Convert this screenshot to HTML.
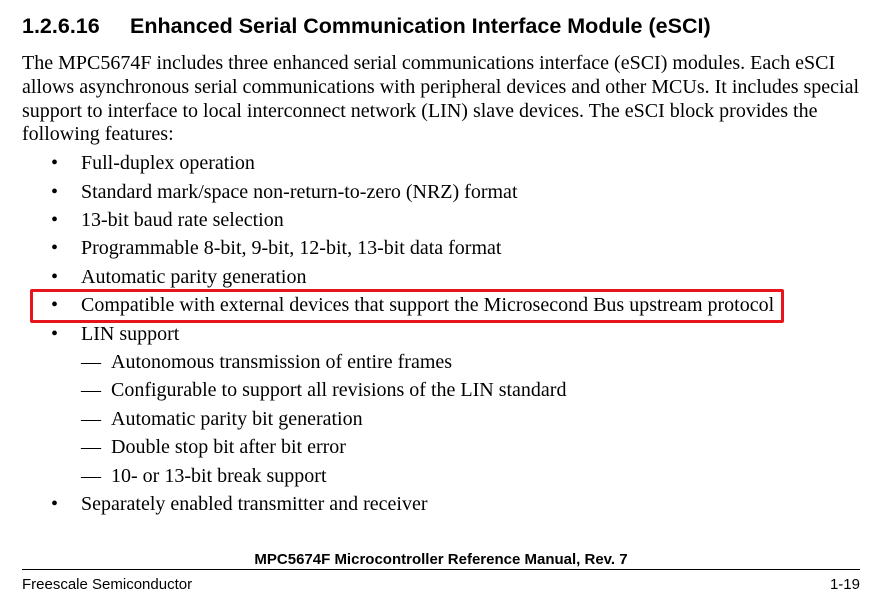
<!DOCTYPE html>
<html><head><meta charset="utf-8">
<style>
html,body{margin:0;padding:0;background:#fff;}
body{width:890px;height:609px;position:relative;overflow:hidden;color:#000;}
.s{position:absolute;font-family:"Liberation Serif",serif;font-size:20px;line-height:22px;white-space:nowrap;}
.h{position:absolute;font-family:"Liberation Sans",sans-serif;font-weight:bold;font-size:21.5px;line-height:24px;white-space:nowrap;}
.f{position:absolute;font-family:"Liberation Sans",sans-serif;font-size:15px;line-height:16px;white-space:nowrap;}
</style></head><body>
<div class="h" style="left:22px;top:14px;">1.2.6.16</div>
<div class="h" style="left:130px;top:14px;">Enhanced Serial Communication Interface Module (eSCI)</div>
<div class="s" style="left:22px;top:52px;">The MPC5674F includes three enhanced serial communications interface (eSCI) modules. Each eSCI</div>
<div class="s" style="left:22px;top:76px;">allows asynchronous serial communications with peripheral devices and other MCUs. It includes special</div>
<div class="s" style="left:22px;top:100px;">support to interface to local interconnect network (LIN) slave devices. The eSCI block provides the</div>
<div class="s" style="left:22px;top:123px;">following features:</div>

<div class="s" style="left:51px;top:152px;">•</div><div class="s" style="left:81px;top:152px;">Full-duplex operation</div>
<div class="s" style="left:51px;top:181px;">•</div><div class="s" style="left:81px;top:181px;">Standard mark/space non-return-to-zero (NRZ) format</div>
<div class="s" style="left:51px;top:209px;">•</div><div class="s" style="left:81px;top:209px;">13-bit baud rate selection</div>
<div class="s" style="left:51px;top:237px;">•</div><div class="s" style="left:81px;top:237px;">Programmable 8-bit, 9-bit, 12-bit, 13-bit data format</div>
<div class="s" style="left:51px;top:266px;">•</div><div class="s" style="left:81px;top:266px;">Automatic parity generation</div>
<div class="s" style="left:51px;top:294px;">•</div><div class="s" style="left:81px;top:294px;">Compatible with external devices that support the Microsecond Bus upstream protocol</div>
<div style="position:absolute;left:30px;top:289px;width:748px;height:28px;border:3px solid #e8141c;border-radius:2px;"></div>
<div class="s" style="left:51px;top:323px;">•</div><div class="s" style="left:81px;top:323px;">LIN support</div>
<div class="s" style="left:81px;top:351px;">—</div><div class="s" style="left:111px;top:351px;">Autonomous transmission of entire frames</div>
<div class="s" style="left:81px;top:379px;">—</div><div class="s" style="left:111px;top:379px;">Configurable to support all revisions of the LIN standard</div>
<div class="s" style="left:81px;top:408px;">—</div><div class="s" style="left:111px;top:408px;">Automatic parity bit generation</div>
<div class="s" style="left:81px;top:436px;">—</div><div class="s" style="left:111px;top:436px;">Double stop bit after bit error</div>
<div class="s" style="left:81px;top:465px;">—</div><div class="s" style="left:111px;top:465px;">10- or 13-bit break support</div>
<div class="s" style="left:51px;top:493px;">•</div><div class="s" style="left:81px;top:493px;">Separately enabled transmitter and receiver</div>

<div class="f" style="left:0;width:882px;text-align:center;top:552px;font-weight:bold;">MPC5674F Microcontroller Reference Manual, Rev. 7</div>
<div style="position:absolute;left:22px;top:569px;width:838px;height:1px;background:#000;"></div>
<div class="f" style="left:22px;top:577px;">Freescale Semiconductor</div>
<div class="f" style="right:30px;top:577px;">1-19</div>
</body></html>
